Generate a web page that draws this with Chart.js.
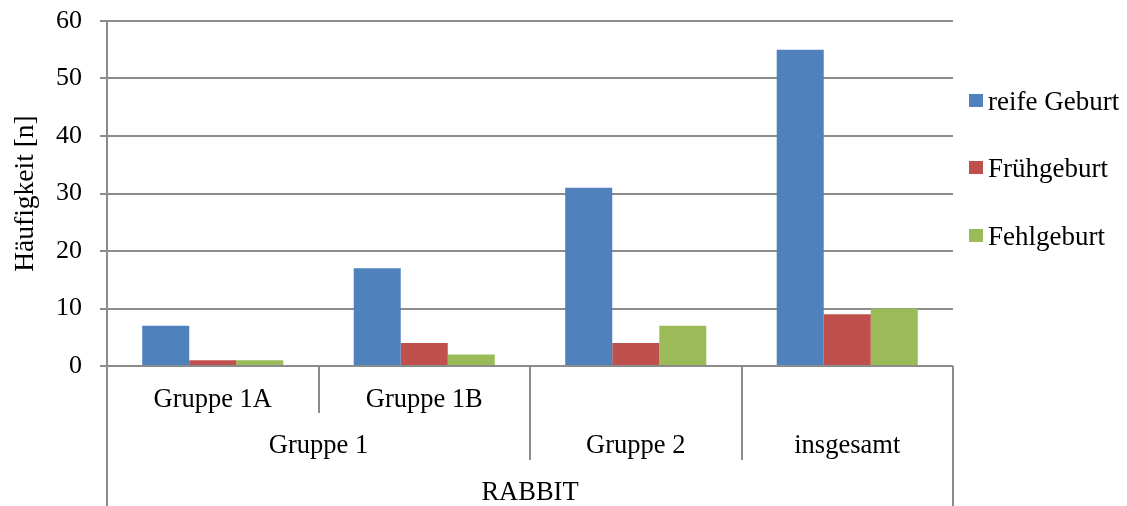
<!DOCTYPE html>
<html lang="de">
<head>
<meta charset="utf-8">
<title>RABBIT – Schwangerschaftsausgang</title>
<script src="https://cdn.jsdelivr.net/npm/chart.js@4.4.1/dist/chart.umd.min.js"></script>
<style>
  html, body { margin: 0; padding: 0; background: #ffffff; }
  #wrap { width: 1127px; height: 506px; }
</style>
</head>
<body>
<div id="wrap"><canvas id="chart" width="1127" height="506"></canvas></div>
<script>
// Innermost category row (empty where the group label stands alone)
const subLabels = ['Gruppe 1A', 'Gruppe 1B', '', ''];
// Middle category row and how many categories each label spans
const groupLabels = ['Gruppe 1', 'Gruppe 2', 'insgesamt'];
const groupSpans = [2, 1, 1];
// Outermost category row
const studyLabel = 'RABBIT';

const seriesNames = ['reife Geburt', 'Frühgeburt', 'Fehlgeburt'];
const reifeGeburt = [7, 17, 31, 55];
const fruehgeburt = [1, 4, 4, 9];
const fehlgeburt = [1, 2, 7, 10];
const seriesColors = ['#4F81BD', '#C0504D', '#9BBB59'];

const yTitle = 'Häufigkeit [n]';
const yMin = 0, yMax = 60, yStep = 10;

const FONT = '"Liberation Serif", "Times New Roman", serif';
const LABEL_SIZE = 26.5;
const LINE = '#8c8c8c';

// Multi-level category axis drawn below the plot area
const categoryAxisPlugin = {
  id: 'categoryAxis',
  afterDraw(chart) {
    const ctx = chart.ctx;
    const x = chart.scales.x;
    const area = chart.chartArea;
    const n = subLabels.length;
    const w = (x.right - x.left) / n;
    const edge = i => x.left + i * w;
    const top = area.bottom;
    const row1 = top + 47, row2 = top + 94, bottom = chart.height;

    ctx.save();
    ctx.strokeStyle = LINE;
    ctx.lineWidth = 2;
    const vline = (px, y0, y1) => {
      ctx.beginPath();
      ctx.moveTo(Math.round(px), y0);
      ctx.lineTo(Math.round(px), y1);
      ctx.stroke();
    };

    // outer frame lines run to the bottom
    vline(edge(0), top, bottom);
    vline(edge(n), top, bottom);

    // separators between categories
    let acc = 0;
    const groupEdges = new Set();
    groupSpans.forEach(s => { acc += s; groupEdges.add(acc); });
    for (let i = 1; i < n; i++) {
      vline(edge(i), top, groupEdges.has(i) ? row2 : row1);
    }

    ctx.fillStyle = '#000000';
    ctx.font = LABEL_SIZE + 'px ' + FONT;
    ctx.textAlign = 'center';
    ctx.textBaseline = 'alphabetic';

    subLabels.forEach((lab, i) => {
      if (lab) ctx.fillText(lab, (edge(i) + edge(i + 1)) / 2, top + 41);
    });

    let start = 0;
    groupLabels.forEach((lab, g) => {
      const end = start + groupSpans[g];
      ctx.fillText(lab, (edge(start) + edge(end)) / 2, top + 87);
      start = end;
    });

    ctx.fillText(studyLabel, (edge(0) + edge(n)) / 2, top + 134);
    ctx.restore();
  }
};

// Legend column at the right
const legendPlugin = {
  id: 'sideLegend',
  afterDraw(chart) {
    const ctx = chart.ctx;
    const area = chart.chartArea;
    const x0 = area.right + 16;
    const rowsY = [110, 177, 245];
    ctx.save();
    ctx.font = '27px ' + FONT;
    ctx.textAlign = 'left';
    ctx.textBaseline = 'alphabetic';
    chart.data.datasets.forEach((ds, i) => {
      const by = rowsY[i];
      ctx.fillStyle = ds.backgroundColor;
      ctx.fillRect(x0, by - 16, 14, 13);
      ctx.fillStyle = '#000000';
      ctx.fillText(ds.label, x0 + 19, by);
    });
    ctx.restore();
  }
};

new Chart(document.getElementById('chart'), {
  type: 'bar',
  data: {
    labels: subLabels.map((s, i) => s || String(i)),
    datasets: [
      { label: seriesNames[0], data: reifeGeburt, backgroundColor: seriesColors[0] },
      { label: seriesNames[1], data: fruehgeburt, backgroundColor: seriesColors[1] },
      { label: seriesNames[2], data: fehlgeburt, backgroundColor: seriesColors[2] }
    ]
  },
  options: {
    responsive: false,
    animation: false,
    events: [],
    layout: { padding: { top: 21, right: 174, left: 5, bottom: 0 } },
    datasets: { bar: { categoryPercentage: 0.667, barPercentage: 1.0, borderWidth: 0 } },
    plugins: {
      legend: { display: false },
      tooltip: { enabled: false }
    },
    scales: {
      x: {
        type: 'category',
        ticks: { display: false },
        grid: { display: false },
        border: { display: false },
        afterFit(scale) { scale.height = 140; }
      },
      y: {
        min: yMin,
        max: yMax,
        ticks: {
          stepSize: yStep,
          padding: 18,
          color: '#000000',
          font: { family: FONT, size: 26 }
        },
        grid: { color: LINE, lineWidth: 2, tickLength: 7, drawTicks: true },
        border: { display: true, color: LINE, width: 2 },
        title: {
          display: true,
          text: yTitle,
          color: '#000000',
          font: { family: FONT, size: 27.5 },
          padding: { top: 4, bottom: 0 }
        },
        afterFit(scale) {
          scale.width = 102;
          // the top tick label may overhang into the page margin
          scale.paddingTop = 0;
          scale.paddingBottom = 0;
        }
      }
    }
  },
  plugins: [categoryAxisPlugin, legendPlugin]
});
</script>
</body>
</html>
